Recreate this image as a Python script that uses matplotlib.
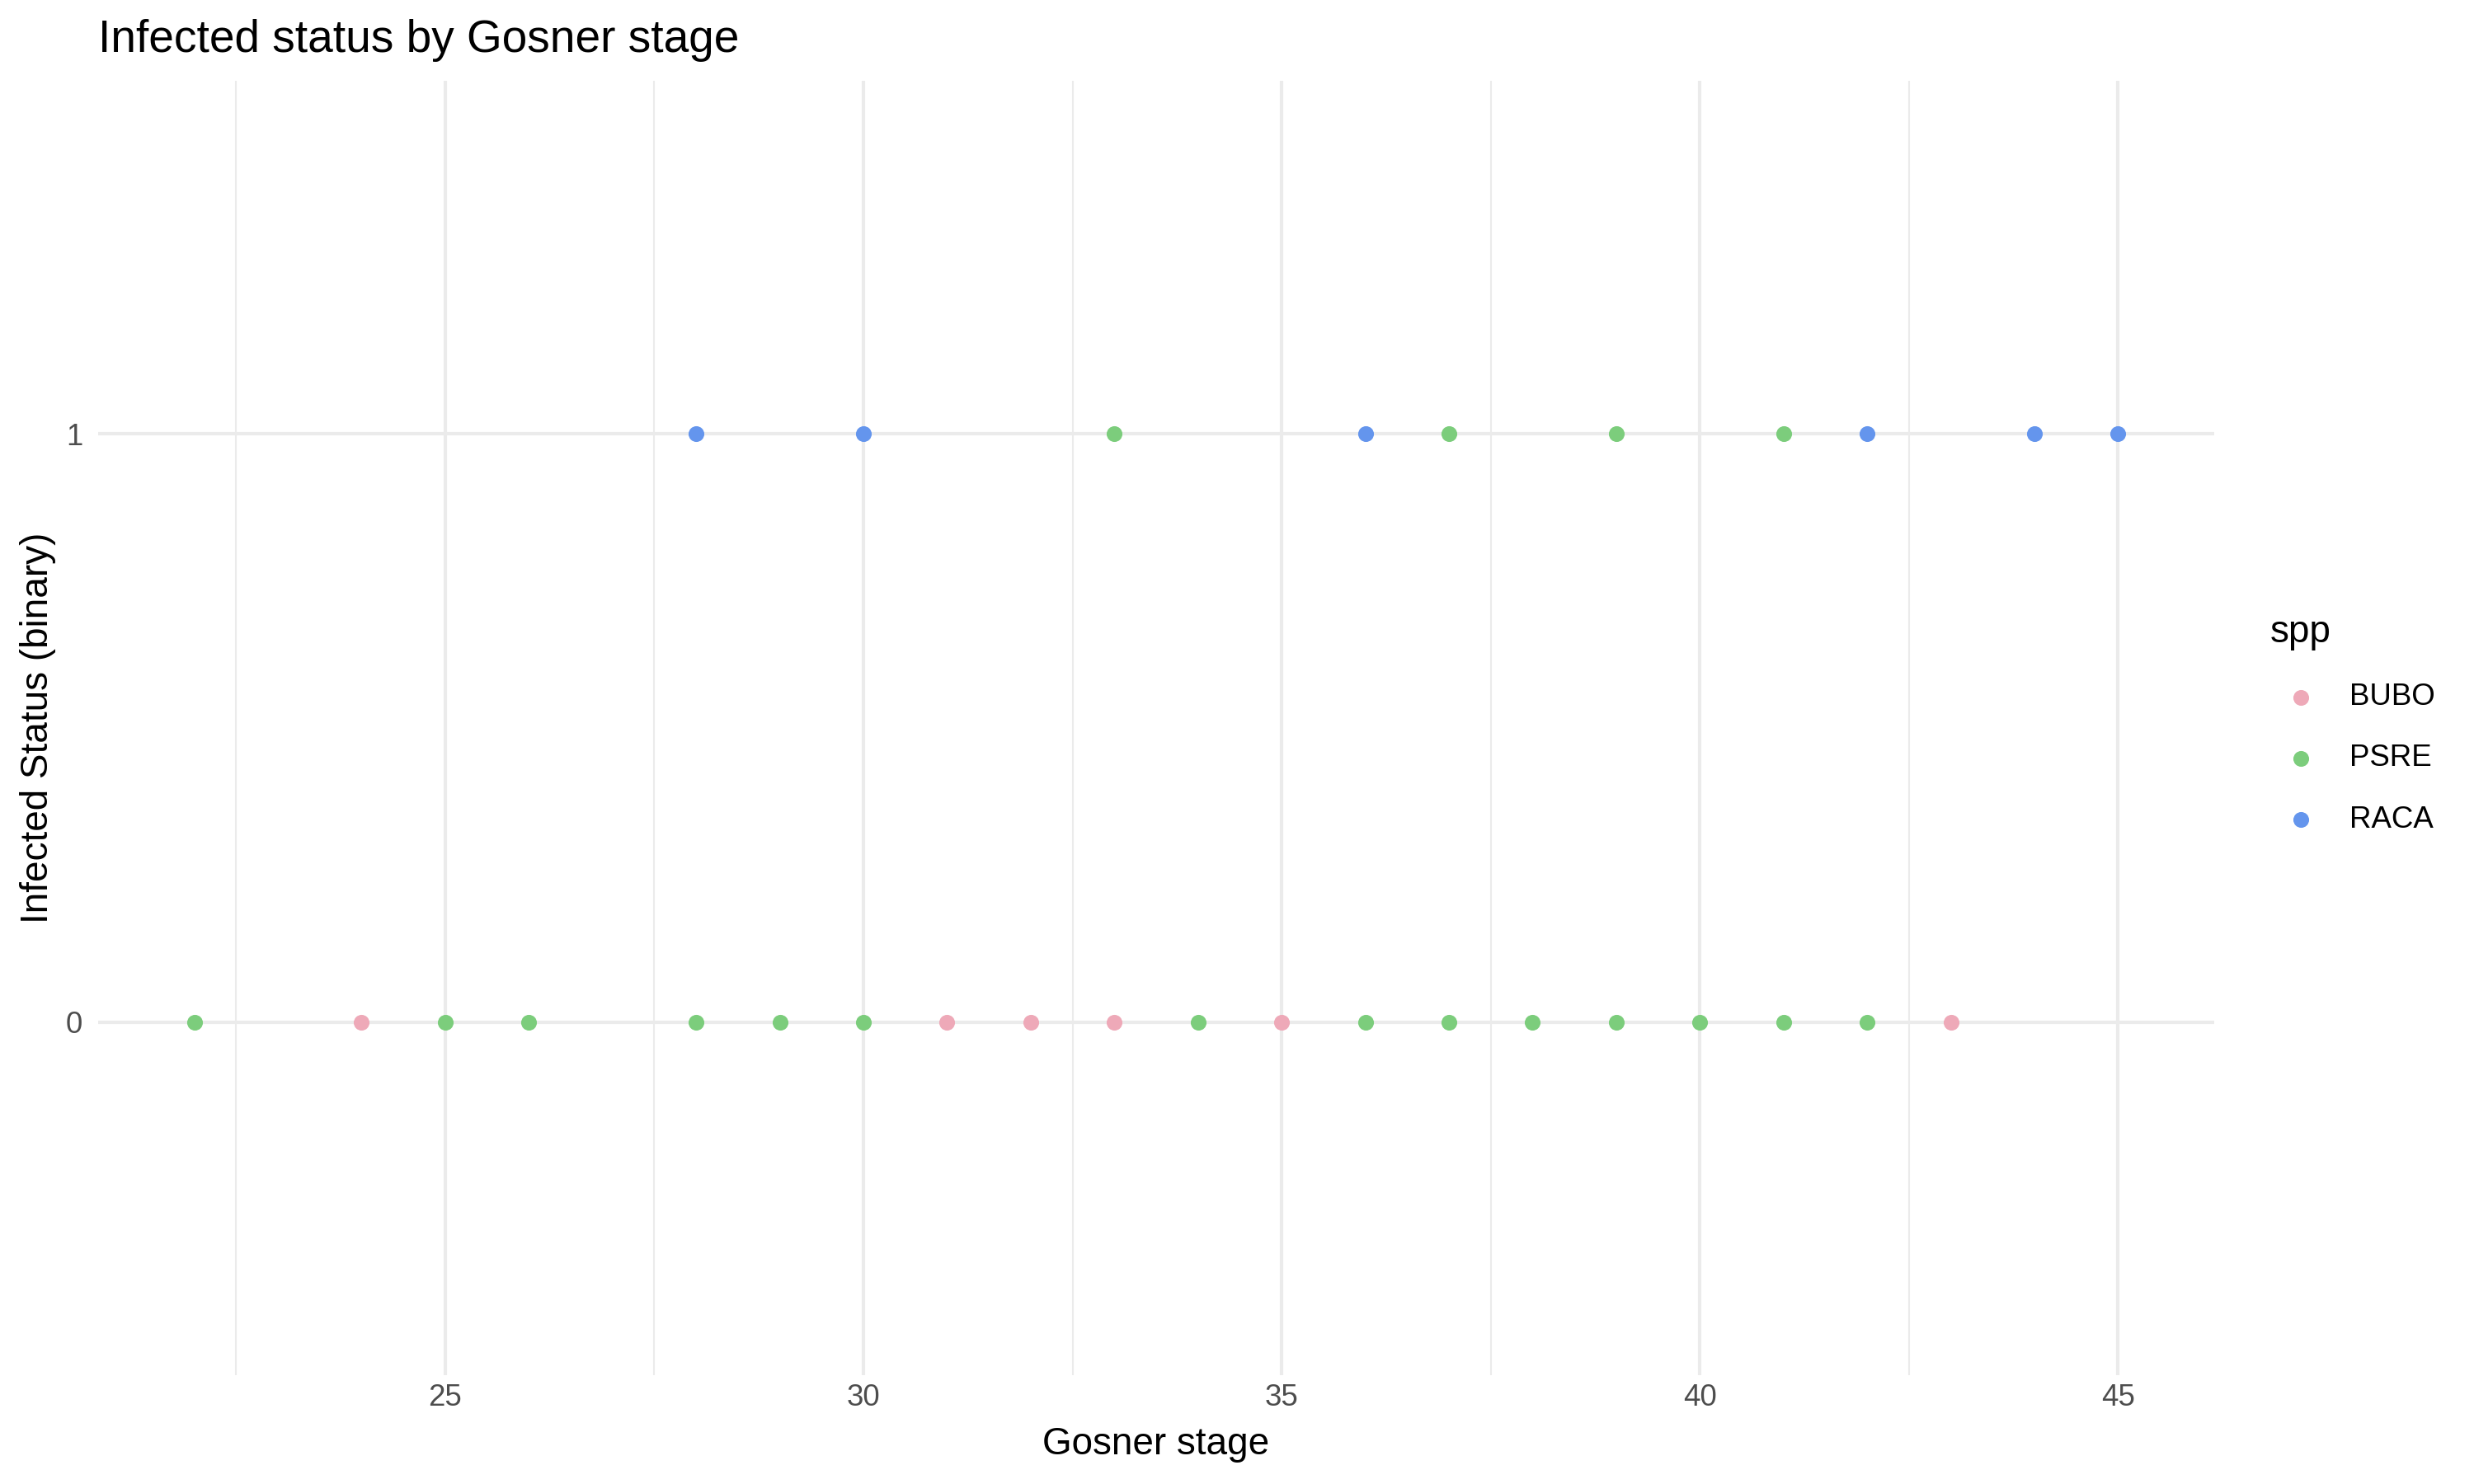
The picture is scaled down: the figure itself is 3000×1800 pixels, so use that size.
import matplotlib
matplotlib.use('Agg')
import matplotlib.pyplot as plt
from matplotlib.ticker import MultipleLocator

plt.rcParams['font.family'] = ['Liberation Sans', 'DejaVu Sans']

# data: (gosner stage, infected) per species
species = ['BUBO', 'PSRE', 'RACA']
colors = {'BUBO': '#EEA9B8', 'PSRE': '#7CCD7C', 'RACA': '#6495ED'}

bubo_stage = [24, 31, 32, 33, 35, 43]
bubo_infected = [0, 0, 0, 0, 0, 0]

psre_stage = [22, 25, 26, 28, 29, 30, 34, 36, 37, 38, 39, 40, 41, 42,
              33, 37, 39, 41]
psre_infected = [0, 0, 0, 0, 0, 0, 0, 0, 0, 0, 0, 0, 0, 0,
                 1, 1, 1, 1]

raca_stage = [28, 30, 36, 42, 44, 45]
raca_infected = [1, 1, 1, 1, 1, 1]

y_levels = ['0', '1']

fig = plt.figure(figsize=(10, 6), dpi=300)
ax = fig.add_axes([119 / 3000, 1 - 1668 / 1800, (2685 - 119) / 3000, (1668 - 98) / 1800])

grid_col = '#EBEBEB'
ax.set_xlim(20.85, 46.15)
ax.set_ylim(-0.6, 1.6)
ax.xaxis.set_major_locator(MultipleLocator(5))
ax.xaxis.set_minor_locator(MultipleLocator(2.5))
ax.set_yticks(range(len(y_levels)))
ax.set_yticklabels(y_levels)
ax.grid(True, which='major', axis='both', color=grid_col, linewidth=1.0, zorder=0)
ax.grid(True, which='minor', axis='x', color=grid_col, linewidth=0.5, zorder=0)
ax.set_axisbelow(True)
ax.tick_params(which='both', length=0)
ax.tick_params(axis='x', labelsize=8.8, labelcolor='#4D4D4D', pad=2.5)
ax.tick_params(axis='y', labelsize=8.8, labelcolor='#4D4D4D', pad=4.5)
for s in ax.spines.values():
    s.set_visible(False)

series = {
    'BUBO': (bubo_stage, bubo_infected),
    'PSRE': (psre_stage, psre_infected),
    'RACA': (raca_stage, raca_infected),
}
handles = []
for sp in species:
    xs, ys = series[sp]
    h = ax.scatter(xs, ys, s=21, color=colors[sp], linewidths=0, zorder=3, label=sp)
    handles.append(h)

ax.set_xlabel('Gosner stage', fontsize=11, labelpad=4)
ax.set_ylabel('Infected Status (binary)', fontsize=11, labelpad=3)
ax.set_title('Infected status by Gosner stage', fontsize=13.2, loc='left', pad=8.5)

leg = fig.legend(handles=handles, labels=species, title='spp', loc='upper left',
                 bbox_to_anchor=(2753 / 3000, 1 - 745 / 1800), frameon=False,
                 fontsize=8.8, title_fontsize=11, alignment='left',
                 borderpad=0, handletextpad=0.63, labelspacing=1.07,
                 handlelength=2.0, borderaxespad=0)

fig.savefig('out.png', dpi=300, facecolor='white')
